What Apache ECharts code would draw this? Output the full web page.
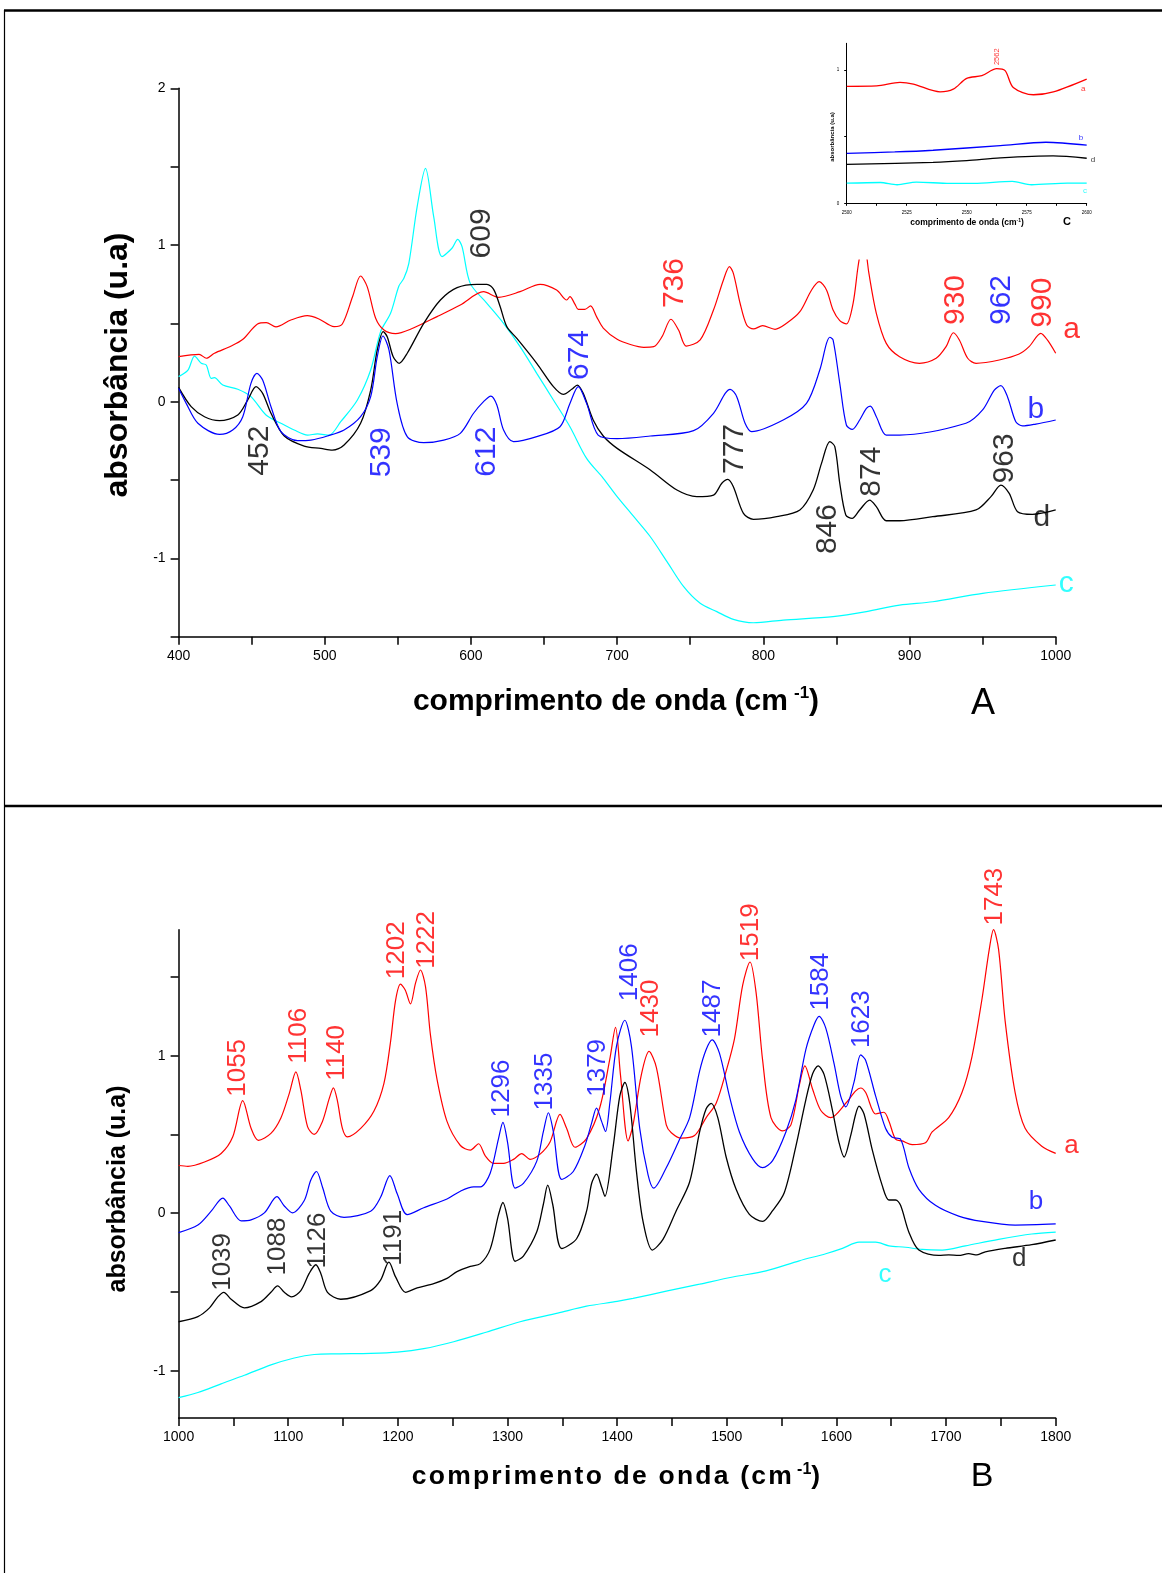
<!DOCTYPE html>
<html><head><meta charset="utf-8">
<script src="https://cdn.jsdelivr.net/npm/echarts@6/dist/echarts.min.js"></script>
<style>html,body{margin:0;padding:0;background:#fff}#c{width:1162px;height:1573px}</style>
</head><body><div id="c"></div>
<script>
// ---------- Panel A (400-1000 cm-1) ----------
const specA_a = [[400,0.287],[414,0.302],[419,0.277],[424.5,0.309],[436,0.355],[444,0.398],[454,0.496],[460,0.504],[466.6,0.477],[476.8,0.521],[488,0.549],[496,0.528],[506.4,0.479],[512,0.496],[519,0.670],[524.5,0.802],[529,0.734],[534.8,0.532],[540.5,0.457],[548.4,0.434],[558.6,0.462],[576.8,0.543],[592.7,0.617],[608.6,0.702],[618.9,0.666],[633.6,0.702],[647.3,0.749],[658.6,0.713],[665.5,0.649],[667.7,0.670],[671.1,0.623],[673.4,0.589],[677.9,0.589],[681.8,0.611],[685.9,0.543],[690.5,0.47],[700,0.398],[709,0.365],[718.2,0.347],[725,0.351],[730.7,0.415],[736.8,0.526],[742,0.457],[747.3,0.355],[756.8,0.394],[765.9,0.585],[772.7,0.777],[776.8,0.862],[779.5,0.819],[784.1,0.628],[788.6,0.489],[793.2,0.464],[799.5,0.485],[808,0.462],[815.9,0.5],[825,0.574],[833,0.713],[838.2,0.766],[843.2,0.713],[847.7,0.585],[852.3,0.517],[856.8,0.496],[861.4,0.628],[864.6,0.85],[866.4,0.95],[868.3,1.0],[870.3,0.95],[872.2,0.82],[877.3,0.564],[884.1,0.372],[893.2,0.287],[906.8,0.245],[918.2,0.277],[925,0.351],[930,0.440],[934.1,0.394],[939.8,0.277],[945.5,0.245],[961.4,0.266],[975,0.304],[981.8,0.351],[989.8,0.436],[994.3,0.394],[1000,0.309]];
const specA_b = [[400,0.085],[405.2,-0.011],[413.2,-0.138],[428,-0.209],[437,-0.181],[443.9,-0.096],[449.5,0.117],[453.6,0.181],[457.5,0.138],[463.2,-0.032],[470,-0.191],[481.4,-0.249],[490.5,-0.245],[501.8,-0.219],[513.2,-0.181],[524.5,-0.096],[531.4,0.032],[535.9,0.287],[539.8,0.419],[543.9,0.330],[549.5,-0.011],[556.4,-0.223],[567.7,-0.262],[581.4,-0.245],[592.7,-0.202],[601.8,-0.074],[608.6,0],[613.6,0.036],[617.7,-0.021],[622.3,-0.181],[629.1,-0.255],[645,-0.223],[660.9,-0.160],[667.7,-0.011],[673.4,0.096],[679.1,-0.011],[687,-0.213],[700,-0.236],[722.7,-0.219],[752.3,-0.185],[765.9,-0.074],[773.9,0.053],[777.3,0.079],[781.8,0.032],[787.5,-0.138],[792,-0.191],[813.6,-0.117],[829.5,-0.011],[838.6,0.202],[843.2,0.372],[845.5,0.411],[847.7,0.394],[852.3,0.117],[856.8,-0.149],[860.9,-0.177],[865.9,-0.117],[870.5,-0.043],[873.2,-0.028],[877.3,-0.096],[884.1,-0.213],[893.2,-0.213],[938.6,-0.138],[950,-0.053],[958,0.074],[962.5,0.102],[967,0.032],[972.7,-0.128],[977.3,-0.155],[986.4,-0.143],[1000,-0.117]];
const specA_d = [[400,0.091],[408.6,-0.032],[417.7,-0.096],[428,-0.121],[440.5,-0.085],[447.3,0.011],[453,0.096],[457.5,0.053],[463.2,-0.074],[472.3,-0.219],[485.9,-0.283],[497.3,-0.298],[505.2,-0.309],[513.2,-0.277],[524.5,-0.138],[531.4,0.074],[535.9,0.330],[540,0.447],[542.7,0.415],[546.8,0.287],[550.9,0.245],[556.4,0.309],[567.7,0.5],[579.1,0.649],[590.5,0.728],[604.1,0.749],[610.9,0.749],[615.5,0.717],[620,0.606],[624.5,0.479],[631.4,0.404],[645,0.245],[656.4,0.096],[663.2,0.047],[668.9,0.079],[672.7,0.106],[676.8,0.053],[683.6,-0.117],[690.5,-0.219],[700,-0.298],[722.7,-0.436],[740.9,-0.564],[754.5,-0.606],[765.9,-0.596],[771.6,-0.521],[775.7,-0.496],[779.5,-0.543],[786.4,-0.713],[793.2,-0.751],[809.1,-0.734],[825,-0.691],[834.1,-0.564],[839.8,-0.394],[845.5,-0.255],[848.9,-0.287],[852.3,-0.521],[856.4,-0.723],[860.7,-0.745],[865.9,-0.691],[872.7,-0.628],[877.3,-0.670],[884.1,-0.760],[893.2,-0.760],[915.9,-0.734],[945.5,-0.691],[955.7,-0.606],[962.5,-0.532],[968.2,-0.585],[973.9,-0.702],[984.1,-0.719],[1000,-0.691]];
const specA_c = [[400,0.160],[406.4,0.202],[410.9,0.291],[415.5,0.245],[418.9,0.234],[422.3,0.149],[424.5,0.153],[430.2,0.106],[440.5,0.079],[449.5,0.032],[459.8,-0.085],[470,-0.138],[479.1,-0.181],[488.2,-0.213],[495,-0.206],[503,-0.213],[510.9,-0.128],[522.3,0.011],[531.4,0.202],[538.2,0.447],[545,0.564],[550.7,0.738],[554.1,0.787],[557.5,0.883],[563.2,1.245],[568.9,1.489],[574.5,1.181],[580.2,0.926],[587,0.979],[590.9,1.036],[593.9,0.989],[599.5,0.755],[610.9,0.628],[622.3,0.5],[633.6,0.351],[645,0.181],[656.4,0.011],[667.7,-0.160],[679.1,-0.362],[690.5,-0.489],[700,-0.606],[711.4,-0.734],[722.7,-0.862],[734.1,-1.021],[745.5,-1.181],[756.8,-1.287],[768.2,-1.340],[779.5,-1.389],[793.2,-1.411],[813.6,-1.394],[847.7,-1.372],[870.5,-1.340],[893.2,-1.298],[915.9,-1.277],[950,-1.223],[1000,-1.170]];
const peaksA = [[455.2,-0.313,'452','k'],[539.1,-0.323,'539','b'],[610.9,-0.319,'612','b'],[607.3,1.074,'609','k'],[674.1,0.298,'674','b'],[739.3,0.757,'736','r'],[780.2,-0.302,'777','k'],[844.1,-0.813,'846','k'],[873.9,-0.447,'874','k'],[964.8,-0.362,'963','k'],[931.8,0.649,'930','r'],[963,0.649,'962','b'],[990.9,0.632,'990','r']];
const lettersA = [[1010.9,0.457,'a','r'],[986.4,-0.053,'b','b'],[990.5,-0.738,'d','k'],[1007.3,-1.160,'c','c']];

// ---------- Panel B (1000-1800 cm-1) ----------
const specB_a = [[1000,0.303],[1008.5,0.298],[1023.6,0.325],[1038.8,0.379],[1049.4,0.485],[1058.5,0.715],[1066.1,0.539],[1072.7,0.463],[1084.2,0.507],[1093.3,0.605],[1100.9,0.759],[1107,0.897],[1111.5,0.781],[1117.6,0.550],[1123.6,0.5],[1131.2,0.583],[1137.3,0.726],[1141.2,0.796],[1144.8,0.715],[1149.4,0.539],[1153.9,0.485],[1166.1,0.539],[1178.2,0.649],[1187.3,0.825],[1193.3,1.088],[1197.9,1.351],[1202.4,1.454],[1206.7,1.417],[1211.5,1.329],[1216.1,1.461],[1220.6,1.544],[1225.2,1.439],[1229.7,1.132],[1235.8,0.846],[1244.8,0.583],[1257,0.430],[1266.1,0.401],[1273.6,0.441],[1279.7,0.364],[1287.3,0.316],[1296.4,0.316],[1305.5,0.342],[1313,0.379],[1320.6,0.342],[1329.7,0.375],[1338.8,0.452],[1347.9,0.627],[1353.9,0.539],[1361.5,0.419],[1372.1,0.474],[1384.2,0.671],[1393.3,0.978],[1398.5,1.180],[1403,0.88],[1410,0.459],[1414.5,0.561],[1422.1,0.880],[1429.1,1.027],[1435.8,0.925],[1444.8,0.561],[1449.4,0.511],[1458.5,0.477],[1470.6,0.493],[1481.2,0.607],[1490.3,0.698],[1499.4,0.902],[1507,1.107],[1514.5,1.448],[1521.2,1.595],[1526.7,1.402],[1532.7,0.970],[1540.3,0.607],[1550.9,0.523],[1558.5,0.561],[1566.1,0.811],[1571.2,0.936],[1578.2,0.789],[1585.8,0.652],[1594.8,0.607],[1608.5,0.698],[1617.6,0.777],[1622.1,0.795],[1626.7,0.766],[1635.8,0.630],[1643.3,0.641],[1647.9,0.584],[1653.9,0.470],[1660,0.459],[1669.1,0.436],[1681.2,0.448],[1687.3,0.516],[1702.4,0.607],[1714.5,0.766],[1723.6,0.993],[1732.7,1.357],[1739.4,1.675],[1743.3,1.800],[1747.9,1.675],[1753.9,1.220],[1763,0.766],[1772.1,0.539],[1787.3,0.425],[1800,0.380]];
const specB_b = [[1000,-0.123],[1017.6,-0.075],[1029.7,0.013],[1040.3,0.096],[1046.4,0.046],[1057,-0.048],[1066.1,-0.042],[1078.2,0.002],[1089.7,0.105],[1096.4,0.046],[1103.9,0.002],[1114.5,0.079],[1120.6,0.211],[1125.8,0.265],[1131.2,0.167],[1138.8,0.013],[1150.9,-0.026],[1175.2,0.013],[1184.2,0.101],[1192.7,0.239],[1199.4,0.123],[1208.5,-0.009],[1223.6,0.035],[1244.8,0.090],[1257,0.140],[1269.1,0.167],[1275.2,0.167],[1284.2,0.254],[1291.8,0.474],[1295.8,0.577],[1300,0.452],[1307,0.160],[1314.5,0.189],[1326.7,0.331],[1332.7,0.518],[1337.3,0.638],[1341.8,0.518],[1349.4,0.215],[1360,0.265],[1370.6,0.430],[1376.7,0.572],[1381.2,0.667],[1385.8,0.583],[1389.4,0.519],[1393.3,0.698],[1399.4,1.061],[1407,1.225],[1413,1.061],[1420.6,0.539],[1428.2,0.243],[1433.3,0.159],[1444.8,0.289],[1457,0.470],[1466.1,0.607],[1475.2,0.902],[1481.2,1.039],[1486.7,1.100],[1493.3,1.016],[1502.4,0.743],[1511.5,0.516],[1523.6,0.345],[1532.7,0.289],[1541.8,0.334],[1553.9,0.516],[1563,0.720],[1572.1,1.039],[1579.7,1.198],[1584.2,1.25],[1590.3,1.175],[1597.9,0.948],[1603.9,0.743],[1608.5,0.675],[1616.1,0.834],[1622.1,1.005],[1626.7,0.970],[1635.8,0.743],[1644.8,0.539],[1650.9,0.482],[1658.5,0.470],[1666.1,0.289],[1675.2,0.152],[1690.3,0.050],[1711.5,-0.018],[1732.7,-0.052],[1763,-0.075],[1800,-0.068]];
const specB_d = [[1000,-0.689],[1017.6,-0.656],[1028.2,-0.601],[1035.8,-0.531],[1041.2,-0.502],[1047.9,-0.546],[1060,-0.601],[1075.2,-0.561],[1084.2,-0.502],[1090.3,-0.461],[1096.4,-0.502],[1103,-0.531],[1111.5,-0.491],[1119.1,-0.382],[1125.2,-0.327],[1129.7,-0.382],[1135.8,-0.502],[1147.9,-0.546],[1175.2,-0.491],[1184.2,-0.425],[1191.8,-0.311],[1197.9,-0.404],[1207,-0.502],[1217.6,-0.474],[1232.7,-0.447],[1244.8,-0.414],[1253.9,-0.371],[1266.1,-0.338],[1275.2,-0.320],[1284.2,-0.228],[1291.8,-0.009],[1295.8,0.068],[1300,-0.031],[1307,-0.305],[1314.5,-0.272],[1326.7,-0.118],[1332.7,0.057],[1336.7,0.178],[1341.2,0.057],[1349.4,-0.224],[1363,-0.162],[1372.1,0.013],[1376.7,0.189],[1381.2,0.248],[1385.8,0.167],[1388.8,0.107],[1396.4,0.425],[1402.4,0.743],[1407,0.830],[1411.5,0.698],[1417.6,0.266],[1423.6,-0.052],[1432.1,-0.234],[1441.8,-0.166],[1453.9,0.016],[1466.1,0.198],[1475.2,0.516],[1481.2,0.664],[1485.8,0.698],[1491.8,0.607],[1499.4,0.357],[1508.5,0.152],[1520.6,-0.007],[1532.7,-0.052],[1541.8,0.016],[1552.4,0.130],[1563,0.425],[1572.1,0.720],[1578.2,0.884],[1583.3,0.936],[1588.8,0.880],[1596.4,0.652],[1602.4,0.448],[1607,0.357],[1613,0.493],[1617.6,0.630],[1620.6,0.680],[1625.2,0.630],[1632.7,0.402],[1641.8,0.175],[1647.9,0.084],[1653.9,0.084],[1658.5,0.050],[1666.1,-0.120],[1675.2,-0.234],[1693.3,-0.268],[1702.4,-0.264],[1711.5,-0.268],[1720.6,-0.257],[1728.2,-0.264],[1735.8,-0.245],[1753.9,-0.223],[1778.2,-0.2],[1800,-0.170]];
const specB_c = [[1000,-1.171],[1017.6,-1.138],[1038.8,-1.083],[1060,-1.029],[1084.2,-0.963],[1105.5,-0.919],[1123.6,-0.897],[1144.8,-0.893],[1175.2,-0.890],[1199.4,-0.882],[1223.6,-0.860],[1250.9,-0.816],[1281.2,-0.754],[1311.5,-0.689],[1345.8,-0.634],[1372.1,-0.590],[1400,-0.56],[1414.5,-0.541],[1444.8,-0.495],[1475.2,-0.45],[1505.5,-0.405],[1535.8,-0.366],[1566.1,-0.302],[1590.3,-0.257],[1605.5,-0.223],[1620.6,-0.184],[1635.8,-0.184],[1647.9,-0.207],[1663,-0.216],[1678.2,-0.230],[1696.4,-0.234],[1717.6,-0.207],[1747.9,-0.166],[1778.2,-0.132],[1800,-0.120]];
const peaksB = [[1053.9,0.923,'1055','r'],[1109.7,1.127,'1106','r'],[1143.9,1.018,'1140','r'],[1199.4,1.669,'1202','r'],[1226.7,1.735,'1222','r'],[1294.8,0.792,'1296','b'],[1334.2,0.836,'1335','b'],[1382.7,0.923,'1379','b'],[1040.3,-0.309,'1039','k'],[1090.9,-0.211,'1088','k'],[1126.7,-0.173,'1126','k'],[1196.4,-0.156,'1191','k'],[1411.8,1.53,'1406','b'],[1430.9,1.30,'1430','r'],[1487.3,1.300,'1487','b'],[1522.1,1.784,'1519','r'],[1585.8,1.470,'1584','b'],[1623.3,1.232,'1623','b'],[1744.8,2.01,'1743','r']];
const lettersB = [[1814.5,0.425,'a','r'],[1782,0.073,'b','b'],[1766.7,-0.291,'d','k'],[1644.2,-0.389,'c','c']];

// ---------- Inset C (2500-2600 cm-1) ----------
const specC_a = [[2500,0.877],[2512.5,0.88],[2522.2,0.907],[2527.8,0.894],[2538.9,0.836],[2544.4,0.856],[2550,0.937],[2556.3,0.957],[2562.5,1.01],[2566,0.995],[2569.4,0.869],[2577.8,0.814],[2586.1,0.836],[2600,0.932]];
const specC_b = [[2500,0.375],[2520,0.385],[2536,0.398],[2564,0.433],[2583,0.458],[2600,0.436]];
const specC_d = [[2500,0.292],[2536,0.307],[2550,0.32],[2564,0.34],[2586,0.355],[2600,0.338]];
const specC_c = [[2500,0.151],[2514,0.156],[2521,0.139],[2529,0.159],[2543,0.149],[2553,0.149],[2569,0.164],[2577,0.139],[2592,0.151],[2600,0.151]];
const peaksC = [[2562.5,1.099,'2562','r']];
const lettersC = [[2598.5,0.861,'a','r'],[2597.6,0.492,'b','b'],[2602.6,0.326,'d','k'],[2599.3,0.092,'c','c']];

// ---------- tick labels ----------
const ticksA_y = [-1.5,-1,-0.5,0,0.5,1,1.5,2], labelsA_y = [-1,0,1,2];
const ticksB_y = [-1,-0.5,0,0.5,1,1.5], labelsB_y = [-1,0,1];
const ticksC_y = [0,0.5,1], labelsC_y = [0,1];

const COL = {r:'#ff0000', b:'#0000ff', k:'#000000', c:'#00ffff'};
const FONT = '"Liberation Sans", Arial, sans-serif';

function lineS(data, c, gi, w, z) {
  return {type:'line', data, xAxisIndex:gi, yAxisIndex:gi, showSymbol:false, symbol:'none', smooth:0.3,
    lineStyle:{color:COL[c], width:w}, z, silent:true, animation:false, clip:true};
}
function textS(list, gi, size, rotate, z) {
  return {type:'scatter', xAxisIndex:gi, yAxisIndex:gi, symbolSize:1, clip:false, z, silent:true, animation:false,
    itemStyle:{color:'rgba(0,0,0,0)'},
    data: list.map(d => ({value:[d[0], d[1]], name:d[2], label:{color:COL[d[3]]}})),
    label:{show:true, position:'inside', formatter:p => p.name, fontSize:size, fontFamily:FONT, rotate:rotate, align:'center', verticalAlign:'middle'}};
}
function xAx(gi, min, max, step, labStep, fs, tl, lw, z) {
  return {gridIndex:gi, type:'value', min, max, interval:step, z,
    axisLine:{show:true, onZero:false, lineStyle:{color:'#000', width:lw}},
    axisTick:{show:true, length:tl, lineStyle:{color:'#000', width:lw}},
    axisLabel:{formatter:v => (Math.abs(v/labStep - Math.round(v/labStep)) < 1e-6 ? String(v) : ''), fontSize:fs, color:'#000', fontFamily:FONT, margin:tl+4, showMinLabel:true, showMaxLabel:true},
    splitLine:{show:false}};
}
function yAx(gi, min, max, ticks, labs, fs, tl, lw, z) {
  return {gridIndex:gi, type:'value', min, max, z,
    axisLine:{show:true, onZero:false, lineStyle:{color:'#000', width:lw}},
    axisTick:{show:true, length:tl, customValues:ticks, lineStyle:{color:'#000', width:lw}},
    axisLabel:{customValues:labs, formatter:v => String(v), fontSize:fs, color:'#000', fontFamily:FONT, margin:tl+5},
    splitLine:{show:false}};
}

const chart = echarts.init(document.getElementById('c'), null, {renderer:'canvas'});
const sp = s => s.split('').join('\u200A');
const option = {
  backgroundColor:'#ffffff',
  animation:false,
  textStyle:{fontFamily:FONT},
  grid:[
    {left:178.6, top:88.3, width:877.1, height:548.4, outerBoundsMode:'none'},
    {left:178.6, top:929.7, width:877.1, height:488.3, outerBoundsMode:'none'},
    {left:846.7, top:43.3, width:240, height:160, outerBoundsMode:'none', z:10}
  ],
  xAxis:[ xAx(0,400,1000,50,100,14,8,1.5,2), xAx(1,1000,1800,50,100,14,8,1.5,2), xAx(2,2500,2600,12.5,25,4.5,2.5,1,12) ],
  yAxis:[ yAx(0,-1.5,2,ticksA_y,labelsA_y,14,8,1.5,2), yAx(1,-1.3,1.8,ticksB_y,labelsB_y,14,8,1.5,2), yAx(2,0,1.2,ticksC_y,labelsC_y,4.5,2.5,1,12) ],
  series:[
    lineS(specA_c,'c',0,1.2,2), lineS(specA_a,'r',0,1.2,2), lineS(specA_d,'k',0,1.3,2), lineS(specA_b,'b',0,1.2,2),
    textS(peaksA,0,30,90,3), textS(lettersA,0,30,0,3),
    lineS(specB_c,'c',1,1.2,2), lineS(specB_a,'r',1,1.2,2), lineS(specB_d,'k',1,1.3,2), lineS(specB_b,'b',1,1.2,2),
    textS(peaksB,1,26,90,3), textS(lettersB,1,26,0,3),
    lineS(specC_c,'c',2,1.3,12), lineS(specC_a,'r',2,1.3,12), lineS(specC_d,'k',2,1.3,12), lineS(specC_b,'b',2,1.3,12),
    textS(peaksC,2,7.5,90,13), textS(lettersC,2,8,0,13)
  ],
  graphic:[
    // white backing of the inset picture
    {type:'rect', shape:{x:805, y:16, width:357, height:243.5}, style:{fill:'#fff'}, z:8, silent:true},
    // frame
    {type:'line', shape:{x1:4, y1:10.5, x2:1162, y2:10.5}, style:{stroke:'#000', lineWidth:2.5}, z:20},
    {type:'line', shape:{x1:4.5, y1:10, x2:4.5, y2:1573}, style:{stroke:'#000', lineWidth:1.2}, z:20},
    {type:'line', shape:{x1:4, y1:806, x2:1162, y2:806}, style:{stroke:'#000', lineWidth:2.5}, z:20},
    // axis titles
    {type:'text', x:118, y:365, rotation:Math.PI/2, z:20, style:{text:'absorbância (u.a)', font:'bold 32px '+FONT, fill:'#000', textAlign:'center', textVerticalAlign:'middle'}},
    {type:'text', x:118, y:1189, rotation:Math.PI/2, z:20, style:{text:'absorbância (u.a)', font:'bold 25px '+FONT, fill:'#000', textAlign:'center', textVerticalAlign:'middle'}},
    {type:'text', x:616, y:702, z:20, style:{text:'comprimento de onda (cm\u2009{s|-1})', font:'bold 30px '+FONT, lineHeight:35, fill:'#000', textAlign:'center', textVerticalAlign:'middle',
      rich:{s:{fontSize:17, fontWeight:'bold', fontFamily:FONT, lineHeight:17, verticalAlign:'top', fill:'#000'}}}},
    {type:'text', x:616, y:1477, z:20, style:{text:sp('comprimento de onda (cm')+'\u2009{s|-1}'+')', font:'bold 26.5px '+FONT, lineHeight:31, fill:'#000', textAlign:'center', textVerticalAlign:'middle',
      rich:{s:{fontSize:16, fontWeight:'bold', fontFamily:FONT, lineHeight:16, verticalAlign:'top', fill:'#000'}}}},
    {type:'text', x:983, y:704, z:20, style:{text:'A', font:'36px '+FONT, fill:'#000', textAlign:'center', textVerticalAlign:'middle'}},
    {type:'text', x:982, y:1477, z:20, style:{text:'B', font:'34px '+FONT, fill:'#000', textAlign:'center', textVerticalAlign:'middle'}},
    // inset titles
    {type:'text', x:967, y:223, z:20, style:{text:'comprimento de onda (cm{s|-1})', font:'bold 8.5px '+FONT, lineHeight:10, fill:'#000', textAlign:'center', textVerticalAlign:'middle',
      rich:{s:{fontSize:5, fontWeight:'bold', fontFamily:FONT, lineHeight:5, verticalAlign:'top', fill:'#000'}}}},
    {type:'text', x:1067, y:222, z:20, style:{text:'C', font:'bold 11px '+FONT, fill:'#000', textAlign:'center', textVerticalAlign:'middle'}},
    {type:'text', x:832, y:137, rotation:Math.PI/2, z:20, style:{text:'absorbância (u.a)', font:'bold 6px '+FONT, fill:'#000', textAlign:'center', textVerticalAlign:'middle'}}
  ]
};
chart.setOption(option);
</script></body></html>
